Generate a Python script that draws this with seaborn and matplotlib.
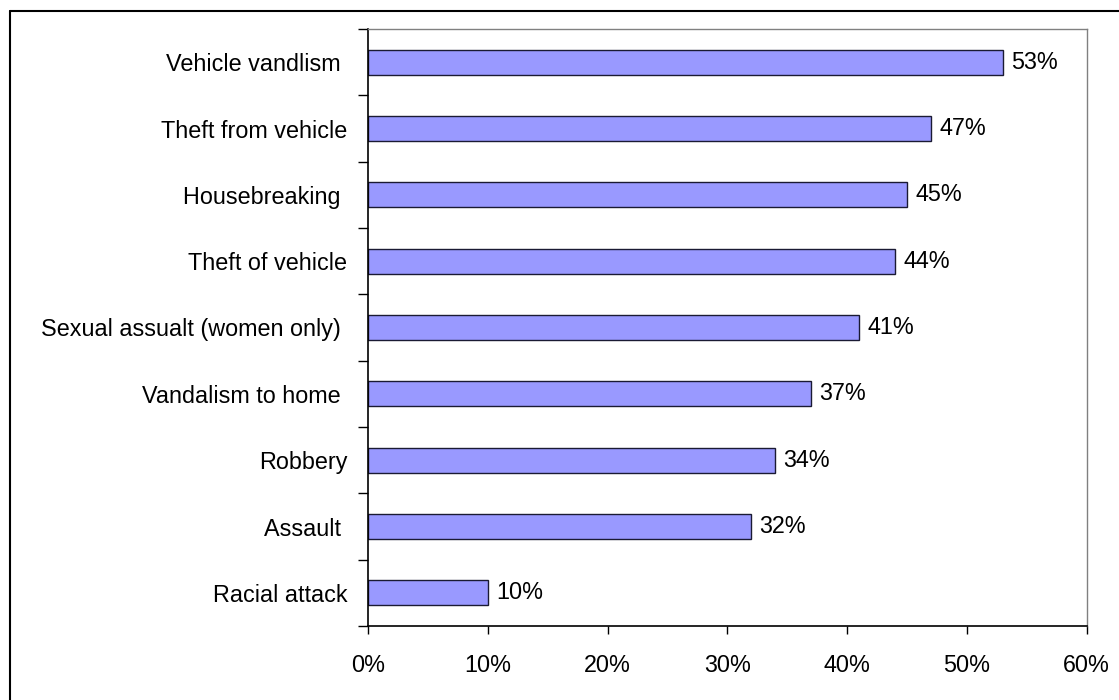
import matplotlib
matplotlib.use("Agg")
import matplotlib.pyplot as plt
from matplotlib.lines import Line2D
from matplotlib.ticker import FixedLocator, FuncFormatter
import seaborn as sns
import pandas as pd

# Crime categories and share of respondents (%)
categories = [
    "Vehicle vandlism ",
    "Theft from vehicle",
    "Housebreaking ",
    "Theft of vehicle",
    "Sexual assualt (women only) ",
    "Vandalism to home ",
    "Robbery",
    "Assault ",
    "Racial attack",
]
values = [53, 47, 45, 44, 41, 37, 34, 32, 10]
x_ticks = [0, 10, 20, 30, 40, 50, 60]

df = pd.DataFrame({"category": categories, "value": values})

sns.set_theme(style="white")
plt.rcParams["font.family"] = ["Liberation Sans", "DejaVu Sans"]
plt.rcParams["text.color"] = "black"

fig = plt.figure(figsize=(11.19, 7.0), dpi=100)
ax = fig.add_axes([368 / 1119, 1 - 626 / 700, (1086.5 - 368) / 1119, (626 - 29) / 700])

sns.barplot(data=df, x="value", y="category", orient="h", color="#9999FF",
            edgecolor="#1a1a33", linewidth=1.0, width=0.38, saturation=1,
            ax=ax)

ax.set_xlim(0, 60)
ax.set_ylim(len(categories) - 0.5, -0.5)
ax.set_xlabel("")
ax.set_ylabel("")

ax.xaxis.set_major_locator(FixedLocator(x_ticks))
ax.xaxis.set_major_formatter(FuncFormatter(lambda v, p: f"{v:.0f}%"))
ax.tick_params(axis="x", direction="out", length=6, width=1, color="black",
               labelsize=16.8, labelcolor="black", pad=14, bottom=True)

# category labels at centres, tick marks at category boundaries
ax.set_yticks(range(len(categories)))
ax.set_yticklabels(categories)
ax.tick_params(axis="y", which="major", length=0, labelsize=16.8,
               labelcolor="black", pad=15)
ax.yaxis.set_minor_locator(FixedLocator([i - 0.5 for i in range(len(categories) + 1)]))
ax.tick_params(axis="y", which="minor", direction="out", length=7, width=1,
               color="black", left=True)

for side in ("left", "bottom"):
    ax.spines[side].set_color("black")
    ax.spines[side].set_linewidth(1.2)
for side in ("top", "right"):
    ax.spines[side].set_color("#808080")
    ax.spines[side].set_linewidth(1.0)

for container in ax.containers:
    ax.bar_label(container, labels=[f"{v}%" for v in values], padding=6,
                 fontsize=16.8, color="black")

# outer chart frame
fig.add_artist(Line2D([9.5 / 1119, 9.5 / 1119], [1 - 10.5 / 700, -0.05],
                      transform=fig.transFigure, color="black", linewidth=1.5))
fig.add_artist(Line2D([9.5 / 1119, 1.05], [1 - 10.5 / 700, 1 - 10.5 / 700],
                      transform=fig.transFigure, color="black", linewidth=1.5))

fig.savefig("out.png", dpi=100, facecolor="white")
